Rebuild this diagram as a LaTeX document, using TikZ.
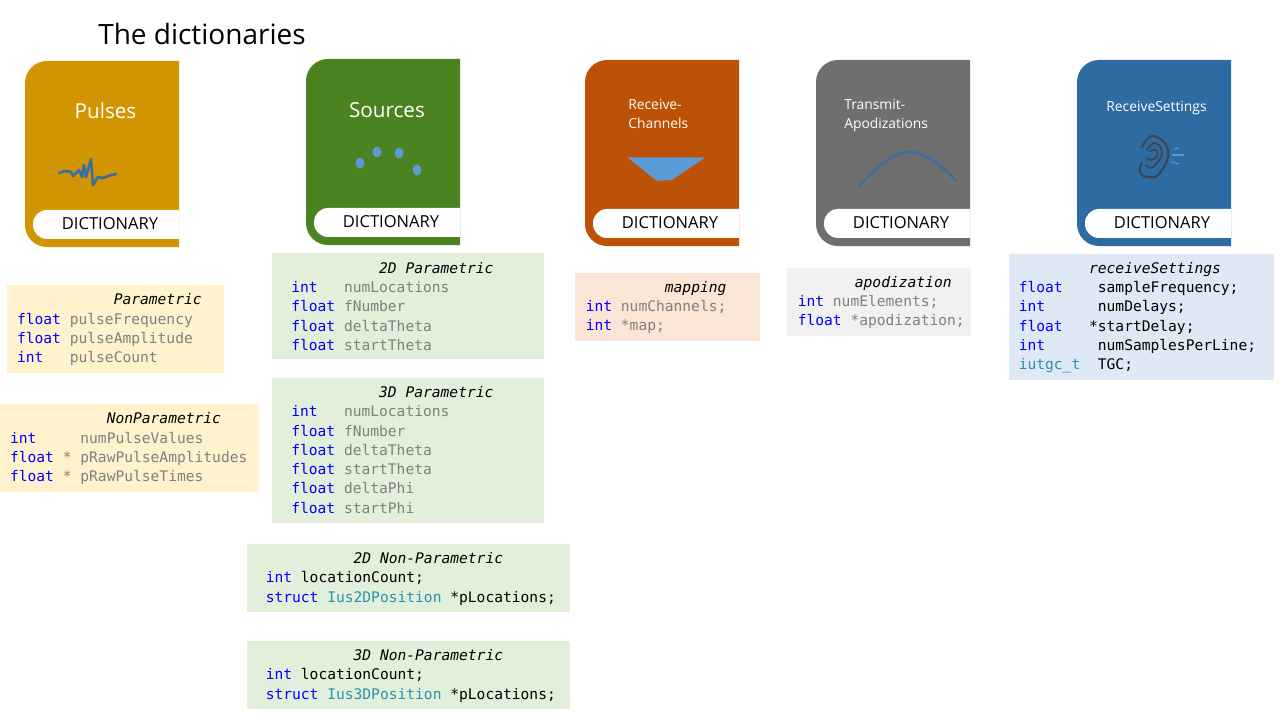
\documentclass[tikz,border=0pt]{standalone}
\usepackage{fontspec}
\setmainfont{Open Sans}
\setmonofont{DejaVu Sans Mono}
\definecolor{pulsecol}{HTML}{D09500}
\definecolor{sourcecol}{HTML}{4C8321}
\definecolor{channelcol}{HTML}{BD5206}
\definecolor{apodcol}{HTML}{6F6F6F}
\definecolor{settingcol}{HTML}{2E6BA3}
\definecolor{pulsebox}{HTML}{FFF2CC}
\definecolor{sourcebox}{HTML}{E2EFDA}
\definecolor{channelbox}{HTML}{FBE5D6}
\definecolor{apodbox}{HTML}{F1F1F1}
\definecolor{settingbox}{HTML}{DEE9F5}
\definecolor{iconblue}{HTML}{5B9BD5}
\definecolor{iconline}{HTML}{3E6E9E}
\definecolor{earcol}{HTML}{3B4652}
\definecolor{kwblue}{HTML}{0000FF}
\definecolor{tyteal}{HTML}{2B91AF}
\definecolor{fieldgray}{HTML}{808080}
\newcommand{\kw}[1]{\textcolor{kwblue}{#1}}
\newcommand{\ty}[1]{\textcolor{tyteal}{#1}}
\newcommand{\fld}[1]{\textcolor{fieldgray}{#1}}
\newcommand{\ttl}[1]{\textit{#1}}
\begin{document}
\begin{tikzpicture}[
    x=0.75pt, y=-0.75pt,
    book/.style={rounded corners=16.5pt},
    tab/.style={fill=white, rounded corners=10.5pt},
    tablabel/.style={font=\fontsize{12.4}{14}\selectfont, text=black, inner sep=0pt},
    booktitle/.style={font=\fontsize{15.5}{18}\selectfont, text=white, inner sep=0pt},
    smalltitle/.style={font=\fontsize{10.4}{14.2}\selectfont, text=white, inner sep=0pt, align=left},
    code/.style={font=\ttfamily\fontsize{10.95}{14.45}\selectfont, anchor=west, inner sep=0pt, align=left},
    dot/.style={fill=iconblue},
    iconstroke/.style={draw=iconline, line width=2pt, line cap=round, line join=round}
]
    \useasboundingbox (0,0) rectangle (1280,720);

    % Heading
    \node[font=\fontsize{21}{25}\selectfont, anchor=west, inner sep=0pt] (heading) at (98,34) {The dictionaries};

    % Books
    \fill[book, fill=pulsecol] (179,247) -- (25,247) -- (25,61) [sharp corners] -- (179,61) -- cycle;
    \fill[tab] (179,239) -- (33,239) -- (33,210) [sharp corners] -- (179,210) -- cycle;
    \node[tablabel] (pulsetab) at (110,224) {DICTIONARY};
    \node[booktitle] (pulses) at (105.5,111) {Pulses};

    \fill[book, fill=sourcecol] (460,245) -- (306,245) -- (306,59) [sharp corners] -- (460,59) -- cycle;
    \fill[tab] (460,237) -- (314,237) -- (314,208) [sharp corners] -- (460,208) -- cycle;
    \node[tablabel] (sourcetab) at (391,222) {DICTIONARY};
    \node[booktitle] (sources) at (387,110) {Sources};

    \fill[book, fill=channelcol] (739,246) -- (585,246) -- (585,60) [sharp corners] -- (739,60) -- cycle;
    \fill[tab] (739,238) -- (593,238) -- (593,209) [sharp corners] -- (739,209) -- cycle;
    \node[tablabel] (channeltab) at (670,223) {DICTIONARY};
    \node[smalltitle, anchor=west] (channels) at (628,114) {Receive-\\Channels};

    \fill[book, fill=apodcol] (970,246) -- (816,246) -- (816,60) [sharp corners] -- (970,60) -- cycle;
    \fill[tab] (970,238) -- (824,238) -- (824,209) [sharp corners] -- (970,209) -- cycle;
    \node[tablabel] (apodtab) at (901,223) {DICTIONARY};
    \node[smalltitle, anchor=west] (apods) at (844,116) {Transmit-\\Apodizations};

    \fill[book, fill=settingcol] (1231,246) -- (1077,246) -- (1077,60) [sharp corners] -- (1231,60) -- cycle;
    \fill[tab] (1231,238) -- (1085,238) -- (1085,209) [sharp corners] -- (1231,209) -- cycle;
    \node[tablabel] (settingtab) at (1162,223) {DICTIONARY};
    \node[smalltitle] (settings) at (1156.5,108.5) {ReceiveSettings};

    % Icons
    \draw[iconstroke] (59,173) -- (65,171) -- (71,172) -- (73,176) -- (79,170) -- (82,177) -- (84,165) -- (86,177) -- (91,159) -- (93,185) -- (98,177) -- (103,178) -- (108,176) -- (116,174);
    \fill[dot] (360,163) ellipse [x radius=4.5, y radius=5.5];
    \fill[dot] (377,152) ellipse [x radius=4.5, y radius=5.5];
    \fill[dot] (399,153) ellipse [x radius=4.5, y radius=5.5];
    \fill[dot] (417,170) ellipse [x radius=4.5, y radius=5.5];
    \fill[iconblue] (627.5,157.5) -- (705,157.5) -- (672,180) -- (657,181) -- cycle;
    \draw[iconstroke] plot[smooth, tension=0.7] coordinates {(859,186) (885,162) (910,152) (935,162) (956,181)};
    \draw[earcol, line width=1.6pt, line cap=round] plot[smooth, tension=0.8] coordinates {(1142,147) (1153,136) (1168,150) (1160,173) (1148,177) (1140,172) (1142,163)};
    \draw[earcol, line width=1.3pt, line cap=round] plot[smooth, tension=0.8] coordinates {(1147,150) (1155,143) (1162,153) (1153,167) (1146,165)};
    \draw[earcol, line width=1.3pt, line cap=round] plot[smooth, tension=0.8] coordinates {(1150,151) (1156,150) (1157,156) (1151,160) (1147,158)};
    \draw[iconblue, line width=0.8pt] (1174,149) -- (1179,148);
    \draw[iconblue, line width=0.8pt] (1172,155) -- (1184,155);
    \draw[iconblue, line width=0.8pt] (1171,162) -- (1179,164);

    % Pulses boxes
    \fill[pulsebox] (7,285) rectangle (224,373);
    \node[code] (parametric) at (16.8,329.7) {\ttl{~~~~~~~~~~~Parametric}\\\kw{float} \fld{pulseFrequency}\\\kw{float} \fld{pulseAmplitude}\\\kw{int}~~~\fld{pulseCount}};
    \fill[pulsebox] (0,404) rectangle (259,492);
    \node[code] (nonparametric) at (9.8,448.7) {\ttl{~~~~~~~~~~~NonParametric}\\\kw{int}~~~~~\fld{numPulseValues}\\\kw{float} \fld{*} \fld{pRawPulseAmplitudes}\\\kw{float} \fld{*} \fld{pRawPulseTimes}};

    % Sources boxes
    \fill[sourcebox] (272,253) rectangle (544,359);
    \node[code] (par2d) at (291,306.5) {\ttl{~~~~~~~~~~2D Parametric}\\\kw{int}~~~\fld{numLocations}\\\kw{float} \fld{fNumber}\\\kw{float} \fld{deltaTheta}\\\kw{float} \fld{startTheta}};
    \fill[sourcebox] (272,378) rectangle (544,523);
    \node[code] (par3d) at (291,450) {\ttl{~~~~~~~~~~3D Parametric}\\\kw{int}~~~\fld{numLocations}\\\kw{float} \fld{fNumber}\\\kw{float} \fld{deltaTheta}\\\kw{float} \fld{startTheta}\\\kw{float} \fld{deltaPhi}\\\kw{float} \fld{startPhi}};
    \fill[sourcebox] (247,544) rectangle (570,612);
    \node[code] (nonpar2d) at (265.5,578.7) {\ttl{~~~~~~~~~~2D Non-Parametric}\\\kw{int} locationCount;\\\kw{struct} \ty{Ius2DPosition} *pLocations;};
    \fill[sourcebox] (247,641) rectangle (570,709);
    \node[code] (nonpar3d) at (265.5,675.7) {\ttl{~~~~~~~~~~3D Non-Parametric}\\\kw{int} locationCount;\\\kw{struct} \ty{Ius3DPosition} *pLocations;};

    % Remaining boxes
    \fill[channelbox] (575,273) rectangle (760,341);
    \node[code] (mapping) at (585.5,307.7) {\ttl{~~~~~~~~~mapping}\\\kw{int} \fld{numChannels;}\\\kw{int} \fld{*map;}};
    \fill[apodbox] (787,268) rectangle (971,336);
    \node[code] (apodization) at (797.5,302.7) {\ttl{~~~~~~\hspace{3.3pt}apodization}\\\kw{int} \fld{numElements;}\\\kw{float} \fld{*apodization;}};
    \fill[settingbox] (1009,254) rectangle (1274,380);
    \node[code] (recvsettings) at (1018.5,317.7) {\ttl{~~~~~~~~receiveSettings}\\\kw{float}~~~~sampleFrequency;\\\kw{int}~~~~~~numDelays;\\\kw{float}~~~*startDelay;\\\kw{int}~~~~~~numSamplesPerLine;\\\ty{iutgc\_t}~~TGC;};
\end{tikzpicture}
\end{document}
